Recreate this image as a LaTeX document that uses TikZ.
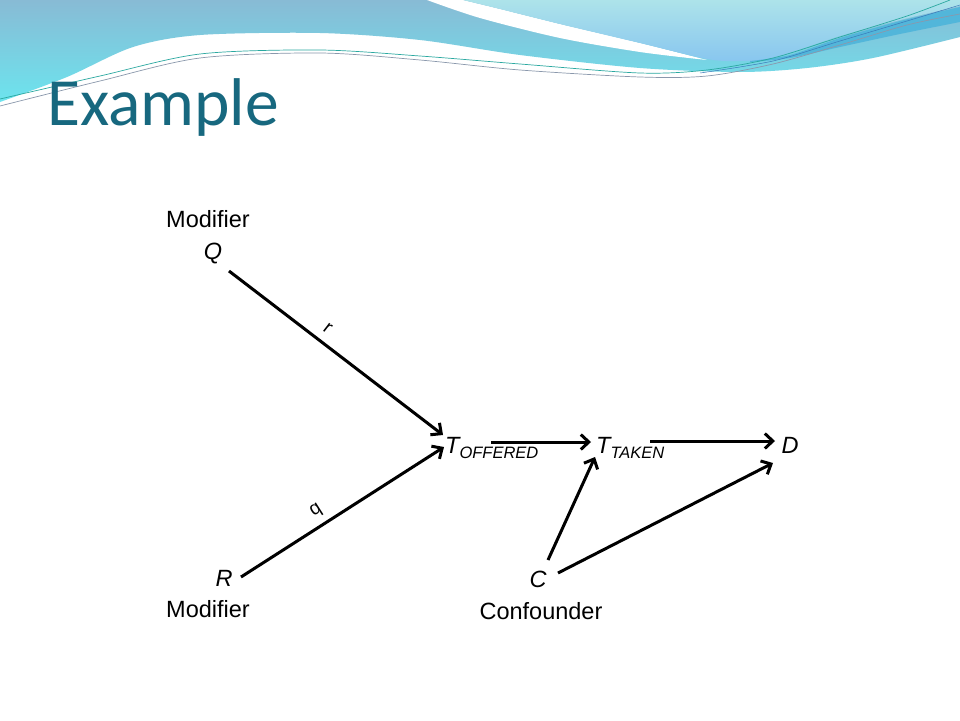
\documentclass[tikz,border=0pt]{standalone}
\usepackage{fontspec}
\setmainfont{Liberation Sans}
\newfontfamily\titlefont{Carlito}
\usetikzlibrary{arrows.meta,calc}
\definecolor{titleteal}{HTML}{17687F}
\definecolor{bandtop}{HTML}{88BBD5}
\definecolor{bandbot}{HTML}{6CE4EE}
\definecolor{paletop}{HTML}{ADE3EA}
\definecolor{palebot}{HTML}{88C6EF}
\definecolor{darkband}{HTML}{52B6DA}
\definecolor{lineteal}{HTML}{2AA8A0}
\definecolor{linegrey}{HTML}{8A98AC}
\definecolor{lineblue}{HTML}{3A78B8}
\begin{document}
\begin{tikzpicture}[x=1pt,y=-1pt,
  arr/.style={line width=3pt,-{Straight Barb[length=8pt,width=15pt]}},
  lbl/.style={font=\fontsize{23.5}{25}\selectfont,inner sep=0pt},
  var/.style={font=\fontsize{23.5}{25}\selectfont\itshape,inner sep=0pt},
  coef/.style={font=\fontsize{19}{20}\selectfont,inner sep=2pt}]
\useasboundingbox (0,0) rectangle (960,720);
\fill[white] (0,0) rectangle (960,720);
% header band
\shade[top color=bandtop,bottom color=bandbot] (0,0) -- plot[smooth] coordinates {(0,102) (67,77) (133,47) (200,35) (320,33) (420,40) (520,55) (640,68) (740,72) (807,68) (873,58) (960,37)} -- (960,0) -- cycle;
% white swoosh
\fill[white] plot[smooth] coordinates {(427,0) (480,18) (560,38) (640,52) (707,60)} -- plot[smooth] coordinates {(707,60) (640,43) (560,24) (500,9) (463,0)} -- cycle;
% pale upper right
\shade[top color=paletop,bottom color=palebot] (463,0) -- plot[smooth] coordinates {(463,0) (500,9) (560,24) (640,43) (707,59) (740,61) (773,58) (840,36) (900,20) (960,6)} -- (960,0) -- cycle;
% darker band
\fill[darkband] plot[smooth] coordinates {(750,61) (790,55) (840,38) (900,21) (960,7)} -- plot[smooth] coordinates {(960,22) (900,34) (840,47) (790,58) (750,62)} -- cycle;
% thin lines
\draw[lineteal,line width=0.7pt] plot[smooth] coordinates {(0,99) (100,76) (200,54) (320,50) (420,56) (520,64) (640,73) (707,70) (773,58) (840,37) (907,16) (950,0)};
\draw[linegrey,line width=0.7pt] plot[smooth] coordinates {(0,106) (100,81) (200,58) (320,53) (420,60) (520,70) (640,77) (707,76) (773,64) (840,45) (907,25) (960,14)};
\draw[lineblue,line width=0.5pt] plot[smooth] coordinates {(700,73) (773,61) (840,41) (907,21) (960,5)};
% title
\node[anchor=base west,inner sep=0pt,text=titleteal,font=\titlefont\fontsize{67.5}{70}\selectfont] (title) at (47,125) {Example};
% nodes
\node[lbl] (modQ) at (208,219) {Modifier};
\node[var] (Q) at (213,254) {Q};
\node[var] (R) at (224,578) {R};
\node[lbl] (modR) at (208,609) {Modifier};
\node[var,anchor=base west] (Toff) at (445,453) {T\fontsize{16.5}{17}\selectfont\raisebox{-5pt}{OFFERED}};
\node[var,anchor=base west] (Ttak) at (596,453) {T\fontsize{16.5}{17}\selectfont\raisebox{-5pt}{TAKEN}};
\node[var,anchor=base] (D) at (790,453) {D};
\node[var] (C) at (538,579) {C};
\node[lbl] (conf) at (541,611) {Confounder};
% connectors
\draw[arr] ([shift={(16,17)}]Q.center) -- node[coef,sloped,above=6pt,pos=0.42] {r} ([shift={(-2,-18)}]Toff.base west);
\draw[arr] ([shift={(17,-1)}]R.center) -- node[coef,sloped,above=4pt,pos=0.41] {q} ([shift={(-1,-6)}]Toff.base west);
\draw[arr] ([shift={(46,-11)}]Toff.base west) -- ([shift={(-5,-11)}]Ttak.base west);
\draw[arr] ([shift={(54,-12)}]Ttak.base west) -- ([shift={(-15,-12)}]D.base);
\draw[arr] ([shift={(10,-19)}]C.center) -- ([shift={(-1,4)}]Ttak.base west);
\draw[arr] ([shift={(20,-6)}]C.center) -- ([shift={(-17,10)}]D.base);
\end{tikzpicture}
\end{document}
